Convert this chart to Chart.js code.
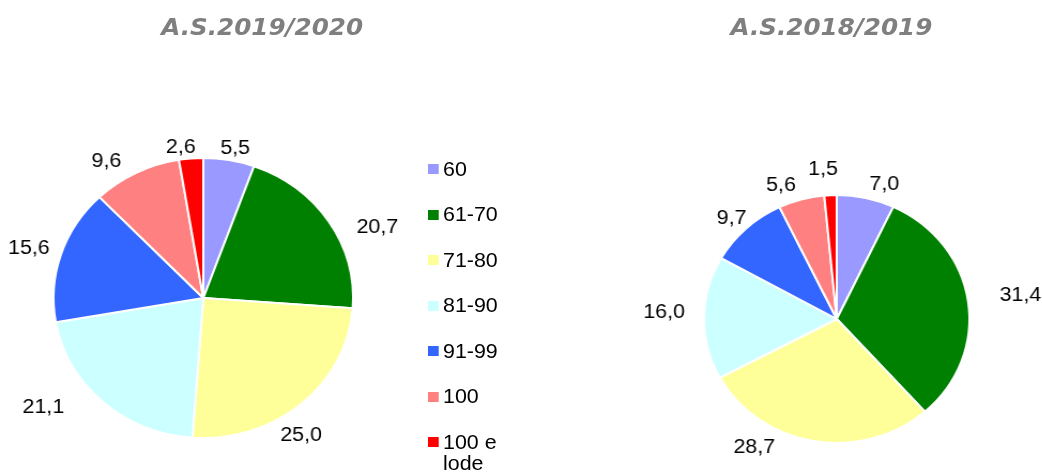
<!DOCTYPE html>
<html><head><meta charset="utf-8">
<script src="https://cdn.jsdelivr.net/npm/chart.js@4"></script>
<style>
html,body{margin:0;padding:0;background:#fff;width:1042px;height:472px;overflow:hidden}
#wrap{position:absolute;left:0;top:0;width:974px;height:472px;transform:scaleX(1.07);transform-origin:0 0}
.title{position:absolute;top:10px;width:300px;text-align:center;font:italic bold 23px "DejaVu Sans",Verdana,sans-serif;color:#7f7f7f;line-height:34px;white-space:nowrap}
canvas{position:absolute;top:0}
.leg{position:absolute;left:400px;font:20px "Liberation Sans",Arial,sans-serif;color:#000;line-height:21px}
.sw{position:absolute;left:0;top:5.5px;width:10px;height:10px}
.lt{position:absolute;left:14px;top:0;width:62px}
</style></head>
<body>
<div id="wrap">
  <div class="title" id="t1" style="left:95px"></div>
  <div class="title" id="t2" style="left:627px"></div>
  <canvas id="c1" width="380" height="472" style="left:0"></canvas>
  <canvas id="c2" width="380" height="472" style="left:594px"></canvas>
  <div id="legend"></div>
</div>
<script>
const categories = ['60', '61-70', '71-80', '81-90', '91-99', '100', '100 e lode'];
const values2019_2020 = [5.5, 20.7, 25.0, 21.1, 15.6, 9.6, 2.6];
const values2018_2019 = [7.0, 31.4, 28.7, 16.0, 9.7, 5.6, 1.5];
const titles = ['A.S.2019/2020', 'A.S.2018/2019'];
const colors = ['#9999FF', '#008000', '#FFFF99', '#CCFFFF', '#3366FF', '#FF8080', '#FF0000'];

const fmt = v => v.toFixed(1).replace('.', ',');

document.getElementById('t1').textContent = titles[0];
document.getElementById('t2').textContent = titles[1];

const leg = document.getElementById('legend');
categories.forEach((c, i) => {
  const d = document.createElement('div');
  d.className = 'leg';
  d.style.top = (169 + i * 45.5 - 10.5) + 'px';
  const sw = document.createElement('div');
  sw.className = 'sw'; sw.style.background = colors[i];
  const t = document.createElement('div');
  t.className = 'lt'; t.textContent = c;
  d.appendChild(sw); d.appendChild(t);
  leg.appendChild(d);
});

const sliceLabels = {
  id: 'sliceLabels',
  afterDatasetsDraw(chart, args, opts) {
    const ctx = chart.ctx;
    const meta = chart.getDatasetMeta(0);
    const vals = chart.data.datasets[0].data;
    ctx.save();
    ctx.font = opts.font;
    ctx.fillStyle = opts.color;
    ctx.textAlign = 'center';
    ctx.textBaseline = 'middle';
    meta.data.forEach((arc, i) => {
      const p = arc.getProps(['x', 'y', 'startAngle', 'endAngle', 'outerRadius'], true);
      const a = (p.startAngle + p.endAngle) / 2 + (opts.shift[i] || 0) * Math.PI / 180;
      const ux = Math.cos(a), uy = Math.sin(a);
      const txt = fmt(vals[i]);
      const w = ctx.measureText(txt).width, h = 16;
      const d = p.outerRadius + (opts.pad[i] || 0);
      ctx.fillText(txt, p.x + ux * d + ux * w / 2, p.y + uy * d + uy * h / 2);
    });
    ctx.restore();
  }
};

function makePie(id, values, radius, padding, pad, shift) {
  return new Chart(document.getElementById(id), {
    type: 'pie',
    data: {
      labels: categories,
      datasets: [{
        data: values,
        backgroundColor: colors,
        borderColor: '#ffffff',
        borderWidth: 2,
        hoverOffset: 0,
        offset: 0,
        radius: radius
      }]
    },
    options: {
      responsive: false,
      animation: false,
      events: [],
      layout: { padding: padding },
      plugins: {
        legend: { display: false },
        tooltip: { enabled: false },
        title: { display: false },
        sliceLabels: {
          font: '20px "Liberation Sans", Arial, sans-serif',
          color: '#000000',
          pad: pad,
          shift: shift
        }
      }
    },
    plugins: [sliceLabels]
  });
}

makePie('c1', values2019_2020, 140, { left: 50, right: 50, top: 158, bottom: 34 },
  [4, 20, 14, 30, 12, 14, 4], [1, 8, 9, 10, 0, -6, -3]);
makePie('c2', values2018_2019, 124, { left: 64, right: 68, top: 195, bottom: 29 },
  [9, 30, 15, 18, 6, 11, 18], [5, 0, 19, 2, 0, -5, -2]);
</script>
</body></html>
